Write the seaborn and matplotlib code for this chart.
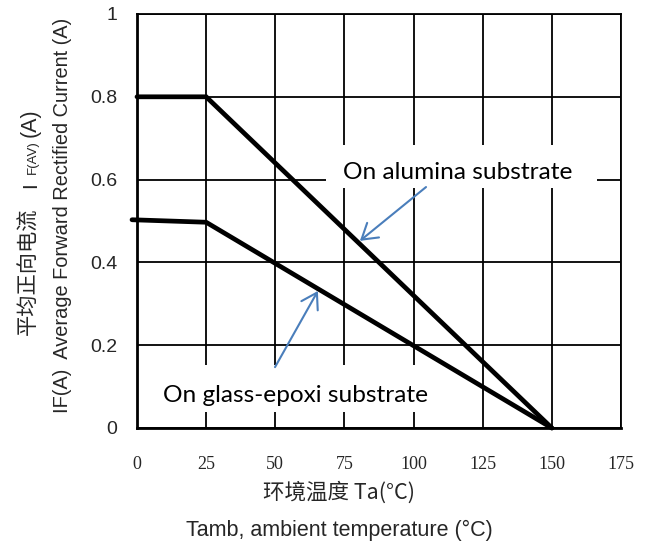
import matplotlib
matplotlib.use("Agg")
import matplotlib.pyplot as plt
import seaborn as sns
import pandas as pd
from matplotlib.patches import Rectangle

# ---- data ----
temp_alumina = [0, 25, 150]
cur_alumina = [0.8, 0.8, 0.0]
temp_glass = [-1.8, 25, 150]
cur_glass = [0.503, 0.497, 0.0]

x_ticks = [0, 25, 50, 75, 100, 125, 150, 175]
y_ticks = [0, 0.2, 0.4, 0.6, 0.8, 1.0]
y_tick_labels = ["0", "0.2", "0.4", "0.6", "0.8", "1"]

label_alumina = "On alumina substrate"
label_glass = "On glass-epoxi substrate"
xlabel_cn = "环境温度 Ta(°C)"
xlabel_en = "Tamb, ambient temperature (°C)"
ylabel_en = "IF(A)  Average Forward Rectified Current (A)"
ylabel_cn = "平均正向电流"

sns.set_style("white")
plt.rcParams["font.family"] = ["Liberation Sans", "Noto Sans CJK SC", "DejaVu Sans"]

W, H = 648, 547
fig = plt.figure(figsize=(W / 100, H / 100), dpi=100)
ax = fig.add_axes([137 / W, 1 - 428 / H, 484 / W, 414 / H])

df_a = pd.DataFrame({"T": temp_alumina, "I": cur_alumina})
df_g = pd.DataFrame({"T": temp_glass, "I": cur_glass})
sns.lineplot(data=df_a, x="T", y="I", color="black", lw=3.4, sort=False,
             estimator=None, ax=ax, zorder=3)
sns.lineplot(data=df_g, x="T", y="I", color="black", lw=3.4, sort=False,
             estimator=None, ax=ax, zorder=3)
for ln in ax.lines:
    ln.set_clip_on(False)
    ln.set_solid_joinstyle("miter")

ax.set_xlim(0, 175)
ax.set_ylim(0, 1)
ax.set_xticks(x_ticks)
ax.set_yticks(y_ticks)
ax.set_yticklabels(y_tick_labels)
ax.grid(True, color="black", lw=1.3)
ax.set_axisbelow(True)
ax.tick_params(axis="both", length=0)
ax.tick_params(axis="x", pad=20, labelsize=13)
ax.tick_params(axis="y", pad=14, labelsize=14)
for lab in ax.get_xticklabels():
    lab.set_family("Liberation Serif")
ax.set_xlabel("")
ax.set_ylabel("")
for s in ["left", "bottom"]:
    ax.spines[s].set_linewidth(2.0)
    ax.spines[s].set_color("black")
for s in ["top", "right"]:
    ax.spines[s].set_linewidth(1.3)
    ax.spines[s].set_color("black")

# white label boxes interrupting grid
ax.add_patch(Rectangle((68.3, 0.580), 98.0, 0.104, facecolor="white",
                       edgecolor="none", zorder=1))
ax.add_patch(Rectangle((4.3, 0.039), 106.0, 0.113, facecolor="white",
                       edgecolor="none", zorder=1))

ann_font = ["Lato", "DejaVu Sans"]
ax.text(115.9, 0.601, label_alumina, ha="center", va="baseline",
        fontsize=17.6, family=ann_font, color="black", zorder=4)
ax.text(57.5, 0.063, label_glass, ha="center", va="baseline",
        fontsize=17.6, family=ann_font, color="black", zorder=4)

arrow_kw = dict(arrowstyle="->,head_length=0.4,head_width=0.25",
                color="#4a7ebb", lw=1.5, shrinkA=0, shrinkB=0,
                mutation_scale=27)
ax.annotate("", xy=(80.6, 0.452), xytext=(104.5, 0.582),
            arrowprops=arrow_kw, zorder=4)
ax.annotate("", xy=(65.4, 0.331), xytext=(49.9, 0.147),
            arrowprops=arrow_kw, zorder=4)

# x labels
fig.text(339 / W, 1 - 493 / H, xlabel_cn, ha="center", va="center",
         fontsize=15.5, family=["Noto Sans CJK SC", "Liberation Sans"])
fig.text(339 / W, 1 - 530 / H, xlabel_en, ha="center", va="center",
         fontsize=15.5, family=["Liberation Sans", "DejaVu Sans"])

# y labels
fig.text(63 / W, 1 - 215 / H, ylabel_en, ha="center", va="center",
         rotation=90, fontsize=14.4, family=["Liberation Sans", "DejaVu Sans"])
rot = dict(rotation=90, rotation_mode="anchor", ha="left", va="center")
fig.text(29 / W, 1 - 335 / H, ylabel_cn, fontsize=15.3,
         family=["Noto Sans CJK SC", "DejaVu Sans"], **rot)
fig.text(31 / W, 1 - 188 / H, "I", fontsize=15,
         family=["Liberation Sans"], **rot)
fig.text(33 / W, 1 - 174 / H, "F(AV)", fontsize=9.5,
         family=["Liberation Sans"], **rot)
fig.text(30 / W, 1 - 137 / H, "(A)", fontsize=15.5,
         family=["Liberation Sans"], **rot)

fig.savefig("out.png", dpi=100, facecolor="white")
